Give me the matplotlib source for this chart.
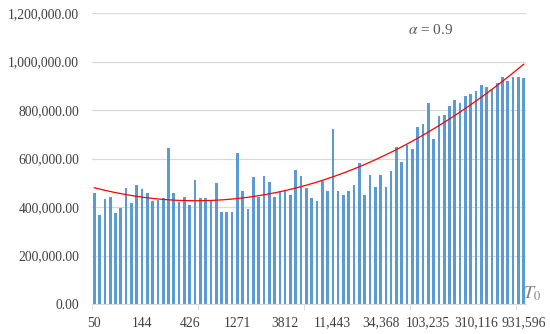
## Bar chart of the objective for each starting temperature T0 (alpha = 0.9), with a quadratic trend line.

import numpy as np
import matplotlib.pyplot as plt
from matplotlib.ticker import FuncFormatter

plt.rcParams['font.family'] = ['Liberation Serif', 'DejaVu Serif']
plt.rcParams['mathtext.fontset'] = 'stix'

# bar heights (one per T0 value, in thousands)
values_k = [459, 367, 434, 441, 375, 396, 477, 415, 489, 473,
            458, 426, 429, 438, 645, 456, 421, 441, 408, 510,
            436, 438, 423, 499, 378, 378, 381, 623, 466, 393,
            524, 440, 527, 503, 443, 468, 466, 450, 551, 527,
            480, 437, 425, 506, 467, 722, 467, 448, 466, 489,
            581, 451, 532, 483, 532, 481, 550, 646, 587, 654,
            639, 731, 741, 828, 680, 775, 779, 818, 841, 830,
            858, 868, 878, 902, 893, 888, 912, 935, 920, 935,
            935, 930]
values = np.array(values_k) * 1000.0

# category labels shown under the axis (every 9th bar)
tick_labels = ["50", "144", "426", "1271", "3812", "11,443",
               "34,368", "103,235", "310,116", "931,596"]
label_step = 9

x = np.arange(len(values))

fig = plt.figure(figsize=(5.5, 3.34), dpi=100)
ax = fig.add_axes([0.1666, 0.0898, 0.957 - 0.1666, 0.961 - 0.0898])

ax.bar(x, values, width=0.5, color='#5B9BD5', zorder=2)

# polynomial trend line (order 2), like the spreadsheet trendline
coef = np.polyfit(x + 1, values, 2)
xs = np.linspace(0, len(values) - 1, 300)
ax.plot(xs, np.polyval(coef, xs + 1), color='#FF0000', lw=0.9, zorder=3)

ax.set_xlim(-0.5, len(values) - 0.5)
ax.set_ylim(0, 1200000)
ax.set_yticks(np.arange(0, 1200001, 200000))
ax.yaxis.set_major_formatter(FuncFormatter(lambda v, p: "{:,.2f}".format(v)))
ax.grid(axis='y', color='#D9D9D9', lw=0.9, zorder=0)

ax.set_xticks(x[::label_step])
ax.set_xticklabels(tick_labels)
ax.set_xticks(np.arange(-0.5, len(values), 20), minor=True)
ax.tick_params(axis='x', which='major', length=0, pad=9)
ax.tick_params(axis='x', which='minor', length=4, color='#D9D9D9')
ax.tick_params(axis='y', length=0, pad=9)
ax.tick_params(labelsize=9.8, labelcolor='#404040')

for s in ['top', 'right', 'left']:
    ax.spines[s].set_visible(False)
ax.spines['bottom'].set_color('#D9D9D9')

ax.text(0.78, 0.94, r"$\alpha$ = 0.9", transform=ax.transAxes,
        fontsize=11, color='#595959', ha='center', va='center')
ax.text(1.012, 0.035, r"$T_0$", transform=ax.transAxes,
        fontsize=13, color='#7F7F7F', ha='center', va='center')

fig.savefig("out.png", dpi=100)
